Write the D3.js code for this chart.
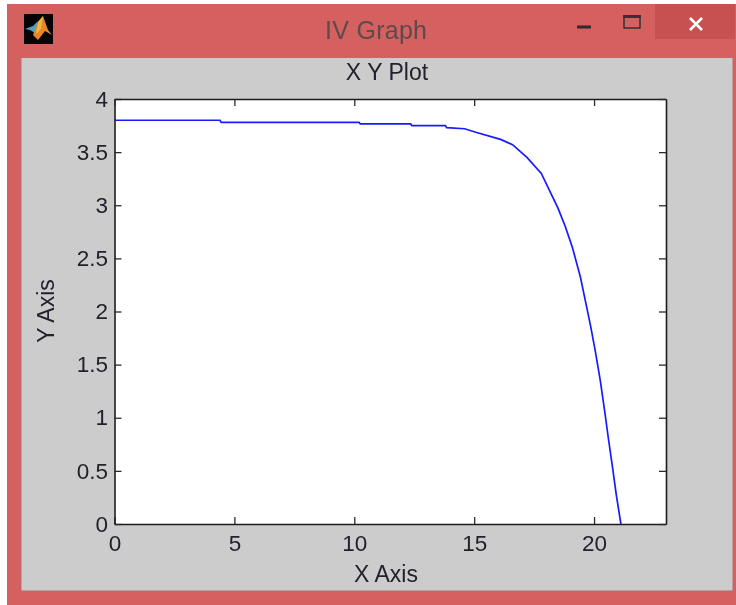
<!DOCTYPE html>
<html>
<head>
<meta charset="utf-8">
<title>IV Graph</title>
<script src="https://cdn.jsdelivr.net/npm/d3@7"></script>
<style>
  html, body { margin: 0; padding: 0; background: #fff; }
  svg { display: block; filter: blur(0.4px); }
  text { font-family: "Liberation Sans", Arial, sans-serif; fill: #22222c; }
</style>
</head>
<body>
<svg id="chart" width="736" height="605"></svg>
<script>
// values
const xValues = [0, 4.4, 4.45, 10.2, 10.25, 12.35, 12.4, 13.8, 13.85, 14.6, 15.1, 16.1, 16.6, 17.2, 17.8, 18.5, 18.8, 19.1, 19.43, 19.72, 19.85, 20.05, 20.26, 20.45, 20.6, 20.76, 20.93, 21.12];
const yValues = [3.8, 3.8, 3.78, 3.78, 3.765, 3.765, 3.75, 3.75, 3.73, 3.72, 3.685, 3.62, 3.57, 3.45, 3.3, 2.97, 2.8, 2.6, 2.325, 2.01, 1.87, 1.63, 1.35, 1.05, 0.8, 0.55, 0.27, 0];
const xTicks = [0, 5, 10, 15, 20];
const yTicks = [0, 0.5, 1, 1.5, 2, 2.5, 3, 3.5, 4];
const windowTitle = 'IV Graph';
const plotTitle = 'X Y Plot';
const xLabel = 'X Axis';
const yLabel = 'Y Axis';

const svg = d3.select('#chart');

// window frame
svg.append('rect').attr('x', 7).attr('y', 4).attr('width', 729).attr('height', 601).attr('fill', '#d56060');
svg.append('rect').attr('x', 655).attr('y', 4).attr('width', 80).attr('height', 35).attr('fill', '#c75050');
svg.append('rect').attr('x', 21).attr('y', 57.5).attr('width', 712).attr('height', 533.5)
    .attr('fill', '#cccccc').attr('stroke', '#bd6a6a').attr('stroke-width', 1);

// matlab icon
const icon = svg.append('g').attr('transform', 'translate(24,14)');
icon.append('rect').attr('width', 29).attr('height', 30).attr('fill', '#050505');
icon.append('path').attr('d', 'M1,15 L9,12 L14,7 L11,19 L6,16 Z').attr('fill', '#4da3c7');
icon.append('path').attr('d', 'M9,21 L14,8 L19,2 L24,16 L28,21 L21,17 L14,26 Z').attr('fill', '#e8862a');
icon.append('path').attr('d', 'M14,8 L19,2 L17,15 L12,20 Z').attr('fill', '#f4b63a');

// window buttons
svg.append('rect').attr('x', 577).attr('y', 25.5).attr('width', 14).attr('height', 3).attr('fill', '#33292b');
svg.append('rect').attr('x', 624).attr('y', 16).attr('width', 16).attr('height', 12)
    .attr('fill', 'none').attr('stroke', '#3a2f30').attr('stroke-width', 1.5);
svg.append('rect').attr('x', 623).attr('y', 15).attr('width', 18).attr('height', 3).attr('fill', '#3a2f30');
svg.append('path').attr('d', 'M690,18 L702,30 M702,18 L690,30')
    .attr('stroke', '#ffffff').attr('stroke-width', 2.6).attr('fill', 'none');

svg.append('text').attr('x', 376).attr('y', 39).attr('text-anchor', 'middle')
    .attr('font-size', 25).style('fill', '#5c4a4c').attr('textLength', 102).text(windowTitle);

// plot
const plotLeft = 114.5, plotRight = 666, plotTop = 99, plotBottom = 524;
const x = d3.scaleLinear().domain([0, 23]).range([plotLeft, plotRight]);
const y = d3.scaleLinear().domain([0, 4]).range([plotBottom, plotTop]);

svg.append('rect').attr('x', plotLeft).attr('y', plotTop)
    .attr('width', plotRight - plotLeft).attr('height', plotBottom - plotTop).attr('fill', '#fff');

const line = d3.line().x(d => x(d[0])).y(d => y(d[1]));
svg.append('path').datum(xValues.map((v, i) => [v, yValues[i]]))
    .attr('d', line).attr('fill', 'none').attr('stroke', '#1a1aff').attr('stroke-width', 1.7);

const tickLen = -7;
const xAxis = d3.axisBottom(x).tickValues(xTicks).tickFormat(d3.format('d')).tickSizeInner(tickLen).tickSizeOuter(0);
const yAxis = d3.axisLeft(y).tickValues(yTicks).tickFormat(d => String(d)).tickSizeInner(tickLen).tickSizeOuter(0);

const gx = svg.append('g').attr('transform', `translate(0,${plotBottom})`).call(xAxis);
const gy = svg.append('g').attr('transform', `translate(${plotLeft},0)`).call(yAxis);

// top and right ticks, matlab box style
svg.append('g').attr('transform', `translate(0,${plotTop})`)
    .call(d3.axisTop(x).tickValues(xTicks).tickFormat('').tickSizeInner(tickLen).tickSizeOuter(0));
svg.append('g').attr('transform', `translate(${plotRight},0)`)
    .call(d3.axisRight(y).tickValues(yTicks).tickFormat('').tickSizeInner(tickLen).tickSizeOuter(0));

svg.selectAll('.domain').attr('stroke', '#1c1c1c').attr('stroke-width', 1.6);
svg.selectAll('.tick line').attr('stroke', '#2a2a2a').attr('stroke-width', 1.3);

gx.selectAll('text').attr('font-size', 22.5).attr('font-family', null).attr('y', 11).attr('dy', '0.71em');
gy.selectAll('text').attr('font-size', 22.5).attr('font-family', null).attr('x', -6.5);

svg.append('text').attr('x', 387).attr('y', 80).attr('text-anchor', 'middle').attr('font-size', 23).text(plotTitle);
svg.append('text').attr('x', 386).attr('y', 582).attr('text-anchor', 'middle').attr('font-size', 23).text(xLabel);
svg.append('text').attr('transform', 'translate(54,311) rotate(-90)').attr('text-anchor', 'middle').attr('font-size', 23).text(yLabel);
</script>
</body>
</html>
